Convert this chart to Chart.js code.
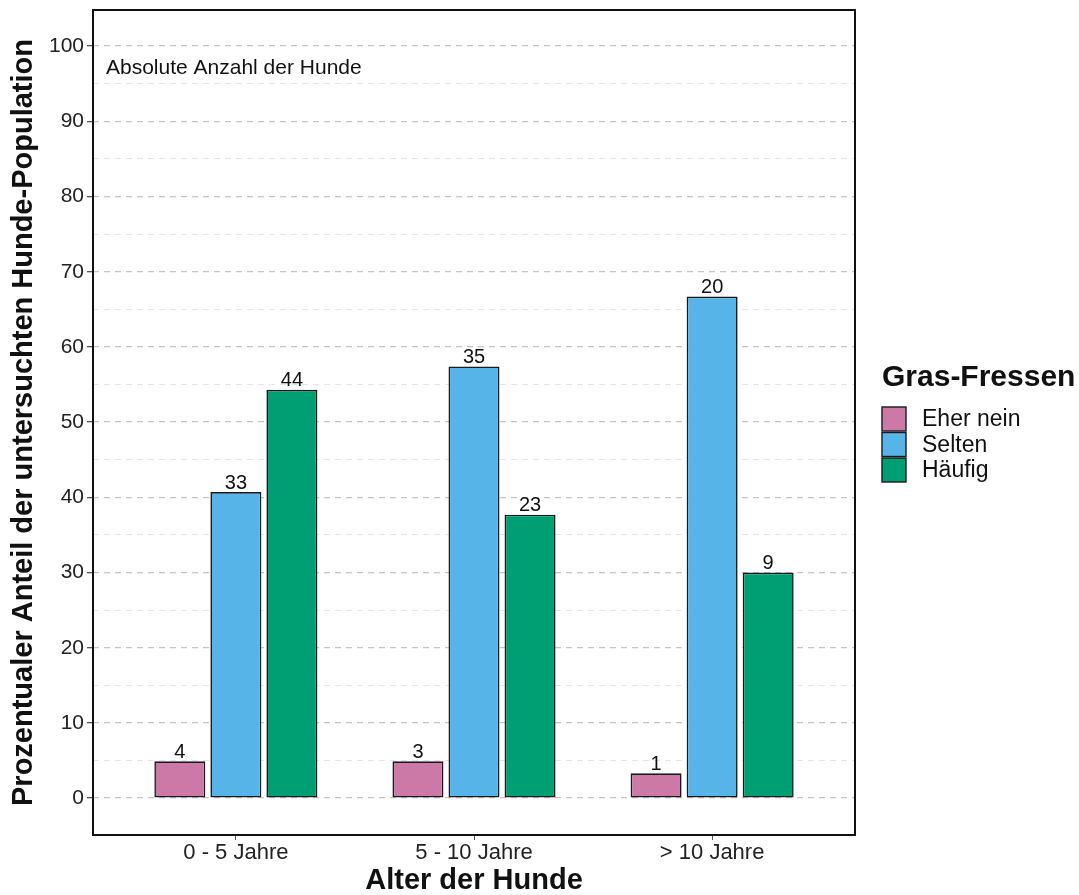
<!DOCTYPE html>
<html>
<head>
<meta charset="utf-8">
<script src="https://cdn.jsdelivr.net/npm/chart.js@4.4.1/dist/chart.umd.min.js"></script>
<style>
  body { margin: 0; background: #fff; }
  #wrap { width: 1079px; height: 895px; }
</style>
</head>
<body>
<div id="wrap"><canvas id="chart" width="1079" height="895"></canvas></div>
<script>
// Altersgruppen und Anteile (in %) je Gras-Fressen-Kategorie
const categories = ["0 - 5 Jahre", "5 - 10 Jahre", "> 10 Jahre"];
const seriesNames = ["Eher nein", "Selten", "Häufig"];
const eherNein = [4.9, 4.9, 3.3];
const selten = [40.7, 57.4, 66.7];
const haeufig = [54.3, 37.7, 30.0];
// absolute Anzahl (Beschriftung über den Balken)
const countsEherNein = [4, 3, 1];
const countsSelten = [33, 35, 20];
const countsHaeufig = [44, 23, 9];
const yTicks = [0, 10, 20, 30, 40, 50, 60, 70, 80, 90, 100];

const colors = ["#CC79A7", "#56B4E9", "#009E73"];
const FONT = "'Liberation Sans', Arial, Helvetica, sans-serif";

const toPoints = (arr) => arr.map((v, i) => ({ x: i + 1, y: v }));

const data = {
  datasets: [
    { label: seriesNames[0], data: toPoints(eherNein), counts: countsEherNein, backgroundColor: colors[0] },
    { label: seriesNames[1], data: toPoints(selten), counts: countsSelten, backgroundColor: colors[1] },
    { label: seriesNames[2], data: toPoints(haeufig), counts: countsHaeufig, backgroundColor: colors[2] },
  ].map((d) => ({
    ...d,
    borderColor: "#1a1a1a",
    borderWidth: 1.6,
    borderSkipped: false,
    categoryPercentage: 0.706,
    barPercentage: 0.91,
  })),
};

// Rahmen, Zahlen über den Balken, Hinweistext und Legende
const extras = {
  id: "extras",
  afterDatasetsDraw(chart) {
    const ctx = chart.ctx;
    const area = chart.chartArea;
    ctx.save();

    ctx.fillStyle = "#111";
    ctx.font = "20px " + FONT;
    ctx.textAlign = "center";
    ctx.textBaseline = "bottom";
    chart.data.datasets.forEach((ds, di) => {
      chart.getDatasetMeta(di).data.forEach((bar, i) => {
        ctx.fillText(String(ds.counts[i]), bar.x, bar.y + 1);
      });
    });

    ctx.textAlign = "left";
    ctx.textBaseline = "middle";
    ctx.font = "21px " + FONT;
    ctx.fillText("Absolute Anzahl der Hunde", area.left + 13, 68);

    ctx.strokeStyle = "#111";
    ctx.lineWidth = 2;
    ctx.strokeRect(area.left, area.top, area.right - area.left, area.bottom - area.top);

    // Legende
    const lx = 882;
    ctx.font = "bold 30px " + FONT;
    ctx.textBaseline = "middle";
    ctx.fillText("Gras-Fressen", lx, 378);
    ctx.font = "23px " + FONT;
    chart.data.datasets.forEach((ds, i) => {
      const y = 407 + i * 25.5;
      ctx.fillStyle = ds.backgroundColor;
      ctx.fillRect(lx, y, 24, 24);
      ctx.strokeStyle = "#1a1a1a";
      ctx.lineWidth = 1.4;
      ctx.strokeRect(lx, y, 24, 24);
      ctx.fillStyle = "#111";
      ctx.fillText(ds.label, lx + 40, y + 13);
    });
    ctx.restore();
  },
};

new Chart(document.getElementById("chart"), {
  type: "bar",
  data: data,
  options: {
    responsive: false,
    animation: false,
    layout: { padding: { top: 10, right: 224, left: 0, bottom: 0 } },
    plugins: { legend: { display: false }, tooltip: { enabled: false } },
    scales: {
      x: {
        type: "linear",
        min: 0.4,
        max: 3.6,
        offset: false,
        afterBuildTicks: (scale) => {
          scale.ticks = categories.map((c, i) => ({ value: i + 1 }));
        },
        afterFit: (scale) => {
          scale.height = 60;
          scale.paddingLeft = 0;
          scale.paddingRight = 0;
        },
        ticks: {
          callback: (v) => categories[v - 1] || "",
          color: "#222",
          font: { family: FONT, size: 22 },
          padding: 0,
          maxRotation: 0,
        },
        grid: { offset: false, drawOnChartArea: false, drawTicks: true, tickLength: 5, tickColor: "#555", tickWidth: 1 },
        border: { display: false },
        title: {
          display: true,
          text: "Alter der Hunde",
          color: "#111",
          font: { family: FONT, size: 29, weight: "bold" },
          padding: { top: 0, bottom: -3 },
        },
      },
      y: {
        min: -4.9,
        max: 104.8,
        afterBuildTicks: (scale) => {
          const t = [];
          yTicks.forEach((v) => {
            t.push({ value: v });
            if (v < 100) t.push({ value: v + 5 });
          });
          scale.ticks = t;
        },
        afterFit: (scale) => {
          scale.width = 93;
          scale.paddingTop = 0;
          scale.paddingBottom = 0;
        },
        ticks: {
          callback: (v) => (v % 10 === 0 ? String(v) : ""),
          color: "#222",
          font: { family: FONT, size: 21 },
          padding: 3,
          autoSkip: false,
        },
        grid: {
          color: (c) => (c.tick && c.tick.value % 10 === 0 ? "#c4c4c4" : "#e2e2e2"),
          lineWidth: (c) => (c.tick && c.tick.value % 10 === 0 ? 1.3 : 0.9),
          tickColor: (c) => (c.tick && c.tick.value % 10 === 0 ? "#555" : "rgba(0,0,0,0)"),
          tickLength: 6,
          tickBorderDash: [],
        },
        border: { display: false, dash: [6, 5] },
        title: {
          display: true,
          text: "Prozentualer Anteil der untersuchten Hunde-Population",
          color: "#111",
          font: { family: FONT, size: 29, weight: "bold" },
          padding: { top: 7, bottom: 0 },
        },
      },
    },
  },
  plugins: [extras],
});
</script>
</body>
</html>
